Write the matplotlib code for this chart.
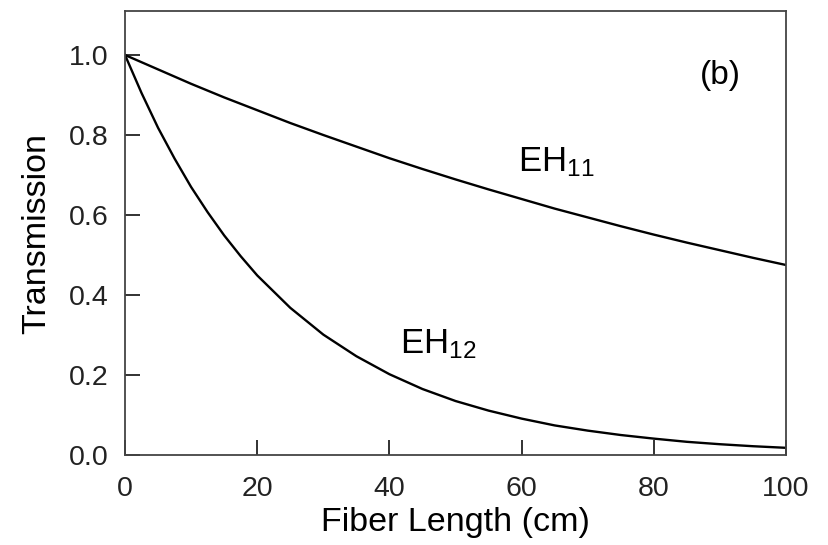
import matplotlib
matplotlib.use('Agg')
import matplotlib.pyplot as plt

# values
length_cm = [0, 2.5, 5, 7.5, 10, 12.5, 15, 17.5, 20, 25, 30, 35, 40, 45, 50,
             55, 60, 65, 70, 75, 80, 85, 90, 95, 100]
eh11 = [1.0, 0.982, 0.964, 0.946, 0.928, 0.911, 0.894, 0.878, 0.862, 0.83, 0.80,
        0.771, 0.742, 0.715, 0.689, 0.664, 0.640, 0.616, 0.594, 0.572, 0.551,
        0.531, 0.512, 0.493, 0.475]
eh12 = [1.0, 0.905, 0.818, 0.741, 0.670, 0.607, 0.549, 0.497, 0.449, 0.368, 0.301,
        0.247, 0.202, 0.165, 0.135, 0.111, 0.091, 0.074, 0.061, 0.050, 0.041,
        0.033, 0.027, 0.022, 0.018]

x_ticks = [0, 20, 40, 60, 80, 100]
y_ticks = [0.0, 0.2, 0.4, 0.6, 0.8, 1.0]

plt.rcParams['font.family'] = ['Liberation Sans', 'DejaVu Sans']
plt.rcParams['mathtext.fontset'] = 'custom'
plt.rcParams['mathtext.rm'] = 'Liberation Sans'
plt.rcParams['mathtext.it'] = 'Liberation Sans'

fig = plt.figure(figsize=(8.29, 5.45), dpi=100)
ax = fig.add_axes([0.1508, 0.1651, 0.7974, 0.8147])

ax.plot(length_cm, eh11, color='black', lw=1.7)
ax.plot(length_cm, eh12, color='black', lw=1.7)

ax.set_xlim(0, 100)
ax.set_ylim(0, 1.11)
ax.set_xticks(x_ticks)
ax.set_xticklabels([str(t) for t in x_ticks])
ax.set_yticks(y_ticks)
ax.set_yticklabels([f'{t:.1f}' for t in y_ticks])
ax.tick_params(direction='in', length=11, width=1.3, labelsize=20.5,
               top=False, right=False, colors='#222222')
ax.tick_params(axis='y', pad=12)
ax.tick_params(axis='x', pad=15)
for s in ax.spines.values():
    s.set_linewidth(1.3)
    s.set_color('#444444')

ax.set_xlabel('Fiber Length (cm)', fontsize=24.5, labelpad=4)
ax.set_ylabel('Transmission', fontsize=24.5, labelpad=12)

ax.text(59.5, 0.71, r'EH$_{\mathrm{11}}$', fontsize=25)
ax.text(41.6, 0.255, r'EH$_{\mathrm{12}}$', fontsize=25)
ax.text(90, 0.95, '(b)', fontsize=24, ha='center', va='center')

fig.savefig('out.png', dpi=100)
